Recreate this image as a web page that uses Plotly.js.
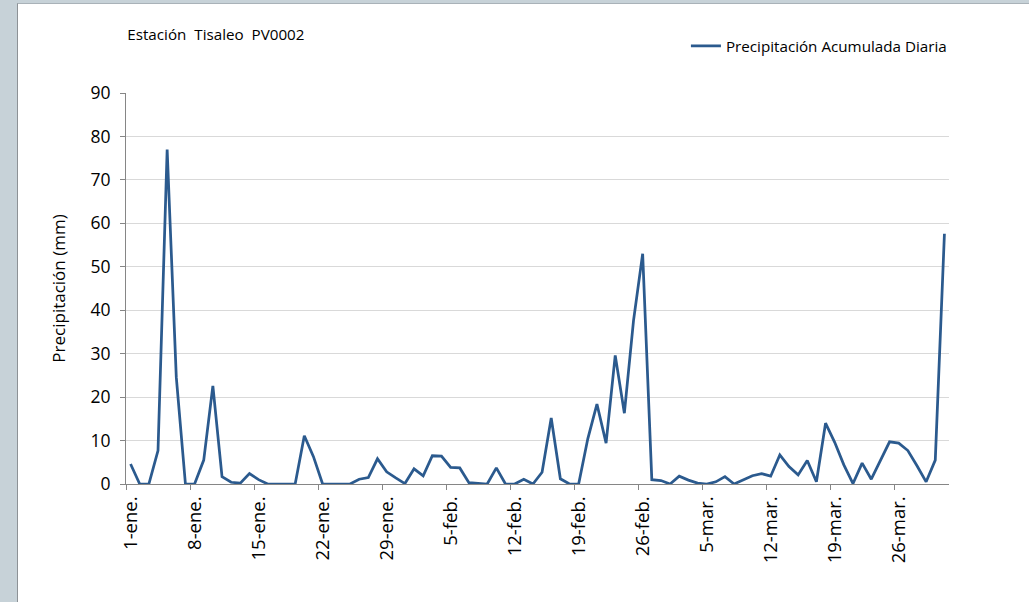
<!DOCTYPE html>
<html>
<head>
<meta charset="utf-8">
<script src="https://cdn.plot.ly/plotly-3.0.1.min.js"></script>
<style>
  html, body { margin: 0; padding: 0; background: #c7d2d8; width: 1029px; height: 602px; overflow: hidden; }
  #chart { position: absolute; left: 17px; top: 3px; width: 1012px; height: 599px; background: #fff;
           border-left: 1px solid #8d9296; border-top: 1px solid #a9b2b8; box-sizing: border-box; }
</style>
</head>
<body>
<div id="chart"></div>
<script>
// Category labels (one per day, 1-ene. .. 31-mar.)
const monthNames = ['ene.', 'feb.', 'mar.'];
const monthLengths = [31, 28, 31];
const dayLabels = [];
monthNames.forEach((m, k) => { for (let d = 1; d <= monthLengths[k]; d++) dayLabels.push(d + '-' + m); });

// Daily accumulated precipitation (mm)
const precipitation = [
  4.6, 0, 0, 7.7, 77.0, 24.6, 0, 0, 5.5, 22.6,
  1.7, 0.4, 0.2, 2.4, 1.0, 0, 0, 0, 0, 11.1,
  6.3, 0, 0, 0, 0, 1.1, 1.5, 5.8, 2.8, 1.4,
  0.1, 3.5, 1.9, 6.5, 6.4, 3.8, 3.7, 0.3, 0.1, 0,
  3.7, 0, 0, 1.1, 0, 2.7, 15.2, 1.2, 0, 0,
  10.4, 18.4, 9.4, 29.6, 16.3, 37.6, 53.0, 1.0, 0.8, 0,
  1.8, 0.9, 0.2, 0, 0.5, 1.7, 0, 0.9, 1.9, 2.4,
  1.8, 6.7, 4.0, 2.1, 5.4, 0.5, 14.0, 9.6, 4.4, 0.1,
  4.8, 1.1, 5.4, 9.7, 9.4, 7.7, 4.2, 0.5, 5.5, 57.6
];

// Tick labels shown on the x axis
const tickLabels = ['1-ene.', '8-ene.', '15-ene.', '22-ene.', '29-ene.', '5-feb.', '12-feb.',
                    '19-feb.', '26-feb.', '5-mar.', '12-mar.', '19-mar.', '26-mar.'];

const xIndex = dayLabels.map((_, i) => i);
const tickPositions = tickLabels.map(l => dayLabels.indexOf(l));

const FONT = 'Open Sans, Noto Sans, sans-serif';
const AXIS = '#868686';

const trace = {
  type: 'scatter',
  mode: 'lines',
  x: xIndex,
  y: precipitation,
  text: dayLabels,
  name: 'Precipitación Acumulada Diaria',
  line: { color: '#2b5a8e', width: 2.75 }
};

const layout = {
  width: 1012,
  height: 599,
  margin: { l: 108, r: 81, t: 89, b: 119, autoexpand: false },
  paper_bgcolor: '#ffffff',
  plot_bgcolor: '#ffffff',
  font: { family: FONT, color: '#000000' },
  title: {
    text: 'Estación\u00A0 Tisaleo\u00A0 PV0002',
    font: { family: FONT, size: 15.2, color: '#000000' },
    xref: 'container', x: 0.108, xanchor: 'left',
    yref: 'container', y: 0.948, yanchor: 'middle'
  },
  showlegend: true,
  legend: {
    xref: 'container', yref: 'container',
    x: 0.66, y: 0.93, xanchor: 'left', yanchor: 'middle',
    font: { family: FONT, size: 15.2, color: '#000000' },
    bgcolor: 'rgba(0,0,0,0)'
  },
  xaxis: {
    type: 'linear',
    range: [-0.5, 89.5],
    tickmode: 'array',
    tickvals: tickPositions,
    ticktext: tickLabels,
    tickangle: -90,
    ticks: '',
    showgrid: false,
    zeroline: false,
    showline: true,
    linecolor: AXIS,
    linewidth: 1,
    tickfont: { family: FONT, size: 18.5, color: '#000000' },
    ticklabelstandoff: 4,
    minor: { tickmode: 'linear', tick0: -0.5, dtick: 7, ticks: 'outside', ticklen: 5, tickcolor: AXIS, tickwidth: 1, showgrid: false }
  },
  yaxis: {
    range: [0, 90],
    tickmode: 'linear',
    tick0: 0,
    dtick: 10,
    ticks: 'outside',
    ticklen: 5,
    tickcolor: AXIS,
    showline: true,
    linecolor: AXIS,
    linewidth: 1,
    gridcolor: '#d9d9d9',
    gridwidth: 1,
    zeroline: false,
    tickfont: { family: FONT, size: 17.5, color: '#000000' },
    ticklabelstandoff: 6,
    title: { text: 'Precipitación (mm)', font: { family: FONT, size: 17, color: '#000000' }, standoff: 20 }
  }
};

Plotly.newPlot('chart', [trace], layout, { staticPlot: true, displayModeBar: false });
</script>
</body>
</html>
